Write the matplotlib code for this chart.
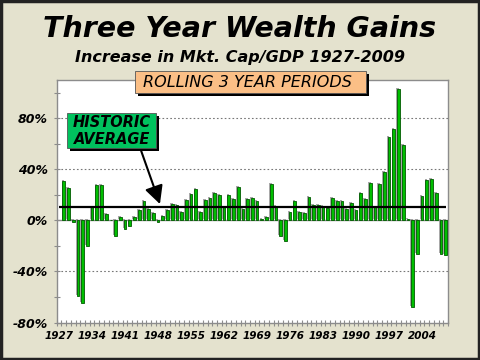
import matplotlib
matplotlib.use("Agg")
import matplotlib.pyplot as plt
import matplotlib.patches as mpatches
import numpy as np

# Rolling 3-year change in market cap / GDP (%), 1928-2009 (1927 has no bar)
years = list(range(1928, 2010))
gains = [
    30.8, 25.4, -1.6, -59.0, -64.6, -20.4, 10.5, 27.5, 27.5, 5.0,
    0.5, -12.3, 2.6, -7.0, -4.0, 2.6, 8.0, 15.0, 9.0, 5.8,
    -1.5, 3.4, 8.0, 12.5, 12.0, 6.5, 16.0, 21.0, 24.6, 6.5,
    15.7, 17.5, 21.7, 19.6, 10.2, 19.6, 16.5, 25.9, 8.9, 16.5,
    17.8, 14.9, 1.0, 2.5, 28.3, 11.3, -12.5, -15.8, 6.3, 14.9,
    6.3, 5.6, 18.0, 12.1, 12.1, 11.3, 10.1, 17.5, 15.5, 15.5,
    9.3, 14.0, 7.8, 21.2, 16.4, 29.0, 10.2, 28.2, 37.9, 65.4,
    71.4, 102.7, 58.8, 0.8, -68.2, -26.4, 18.8, 31.4, 32.2, 21.2,
    -26.1, -27.5,
]
hist_avg = 10.3
label_years = list(range(1927, 2005, 7))

C_BG     = "#E4E2CE"
C_BAR    = "#00BE00"
C_BAREDG = "#005A00"
C_SHADOW = "#A8A8A8"
C_AXIS   = "#8C8C8C"
C_ORANGE = "#FBBF86"
C_GREEN  = "#00C25E"

fig = plt.figure(figsize=(4.8, 3.6), dpi=100)
fig.patch.set_facecolor(C_BG)
W, H = 480.0, 360.0


def fx(px):
    return px / W


def fy(py):
    return 1 - py / H


ax = fig.add_axes([fx(56.7), fy(322.5), fx(448) - fx(56.7), fy(80) - fy(322.5)])
ax.set_facecolor("white")

x = np.array(years)
g = np.array(gains)
ax.bar(x - 0.2, g, 0.56, bottom=0.8, color=C_SHADOW, zorder=2)
ax.bar(x, g, 0.56, color=C_BAR, edgecolor=C_BAREDG, linewidth=0.6, zorder=3)

ax.set_xlim(1926.5, 2009.5)
ax.set_ylim(-80, 110)

# grid + zero line + average
for yv in [-40, 40, 80]:
    ax.axhline(yv, color="#777777", linestyle=(0, (1.5, 2)), linewidth=0.8, zorder=1)
ax.axhline(0, color=C_AXIS, linewidth=1.0, zorder=2.5)
ax.hlines(hist_avg, 1927, 2009, color="black", linewidth=1.6, zorder=4)

# ticks
ax.set_yticks([-80, -40, 0, 40, 80])
ax.set_yticklabels(["-80%", "-40%", "0%", "40%", "80%"])
ax.set_yticks(np.arange(-80, 111, 20), minor=True)
ax.set_xticks(label_years)
ax.set_xticklabels([str(y) for y in label_years])
ax.set_xticks(np.arange(1926.5, 2010, 1), minor=True)
ax.tick_params(axis="x", which="major", length=0, pad=6)
ax.tick_params(axis="x", which="minor", direction="inout", length=5,
               color=C_AXIS, width=0.8)
ax.tick_params(axis="y", which="both", direction="inout", length=5,
               color=C_AXIS, width=0.8, pad=4)
for lab in ax.get_xticklabels():
    lab.set_fontsize(7.5)
    lab.set_fontweight("bold")
    lab.set_fontstyle("italic")
for lab in ax.get_yticklabels():
    lab.set_fontsize(9)
    lab.set_fontweight("bold")
    lab.set_fontstyle("italic")
for s in ax.spines.values():
    s.set_color(C_AXIS)
    s.set_linewidth(1.0)

# titles
fig.text(0.5, fy(37), "Three Year Wealth Gains", ha="center", va="baseline",
         fontsize=20.5, fontweight="bold", fontstyle="italic")
fig.text(0.5, fy(62), "Increase in Mkt. Cap/GDP 1927-2009", ha="center",
         va="baseline", fontsize=11.5, fontweight="bold", fontstyle="italic")


def shadow_box(x0, y0, x1, y1, color, off=3):
    sh = mpatches.Rectangle((fx(x0 + off), fy(y1 + off)), fx(x1) - fx(x0),
                            fy(y0) - fy(y1), transform=fig.transFigure,
                            facecolor="black", edgecolor="none", zorder=5)
    bx = mpatches.Rectangle((fx(x0), fy(y1)), fx(x1) - fx(x0), fy(y0) - fy(y1),
                            transform=fig.transFigure, facecolor=color,
                            edgecolor="#555555", linewidth=0.6, zorder=6)
    fig.patches.extend([sh, bx])


shadow_box(135, 71, 366, 93, C_ORANGE)
fig.text(fx(247), fy(82.5), "ROLLING 3 YEAR PERIODS", ha="center", va="center",
         fontsize=11.5, fontstyle="italic", zorder=7)

shadow_box(67, 113, 156, 147.5, C_GREEN)
fig.text(fx(112), fy(122.5), "HISTORIC", ha="center", va="center",
         fontsize=10.5, fontweight="bold", fontstyle="italic", zorder=7)
fig.text(fx(112), fy(139.5), "AVERAGE", ha="center", va="center",
         fontsize=10.5, fontweight="bold", fontstyle="italic", zorder=7)

ax.annotate("", xy=(1948.4, hist_avg + 2.5), xycoords="data",
            xytext=(fx(140.5), fy(149)), textcoords="figure fraction",
            arrowprops=dict(arrowstyle="-|>,head_length=0.55,head_width=0.28",
                            mutation_scale=20, lw=1.5,
                            color="black", shrinkA=0, shrinkB=0),
            zorder=5)

# outer frame
fig.patches.append(mpatches.Rectangle((0.002, 0.003), 0.996, 0.994,
                                      transform=fig.transFigure, fill=False,
                                      edgecolor="#222222", linewidth=2.5, zorder=10))

fig.savefig("out.png", dpi=100, facecolor=C_BG)
